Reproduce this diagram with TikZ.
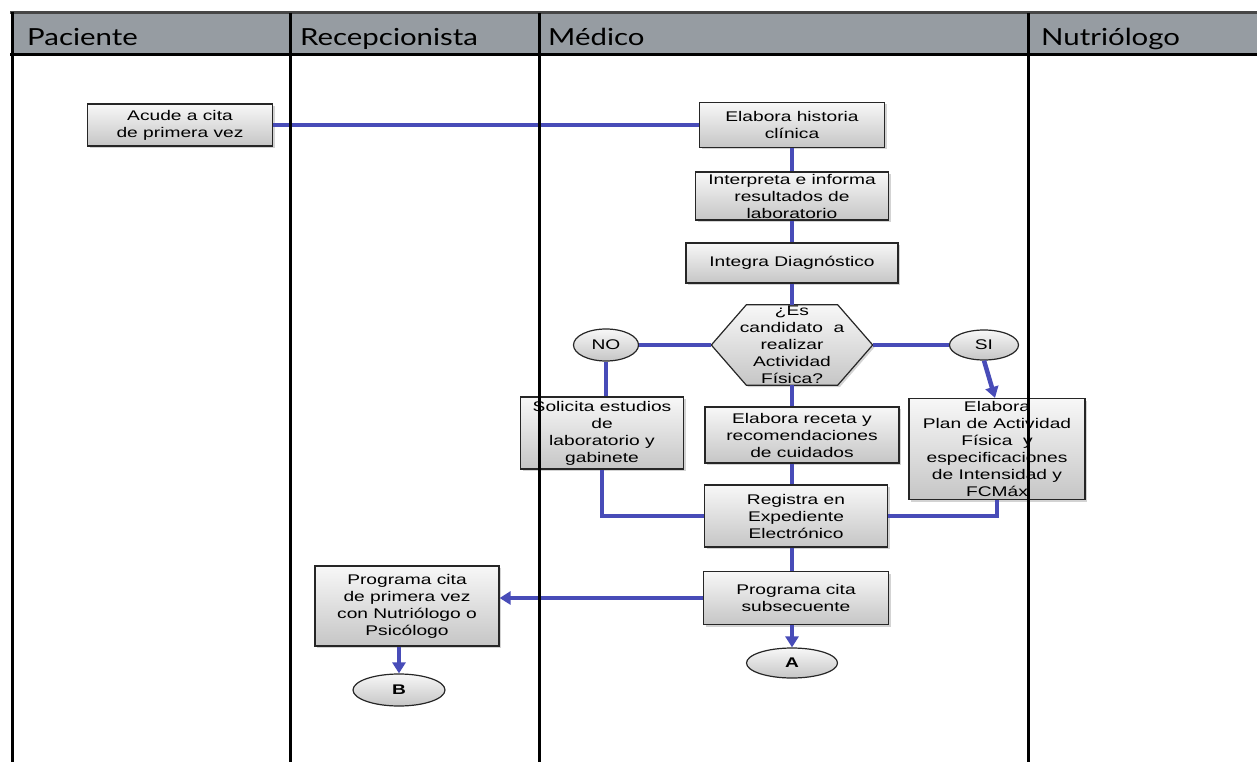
\documentclass[tikz,border=0pt]{standalone}
\usepackage{fontspec}
\setmainfont{Liberation Sans}
\newfontfamily\cajafont[FakeStretch=1.37]{Liberation Sans}
\newfontfamily\carrilfont[FakeStretch=1.25]{Lato}
\usetikzlibrary{shapes.geometric,shadows,arrows.meta,backgrounds}
\definecolor{azul}{RGB}{72,76,184}
\definecolor{cabecera}{RGB}{150,156,162}

\begin{document}
\begin{tikzpicture}[
                x=1pt, y=-1pt,                % unidades en pixeles
                node distance=70pt,
                every node/.style={
                    font=\cajafont\fontsize{14}{17}\selectfont,
                    align=center
                },
                caja/.style={
                    rectangle,
                    draw=black!85,
                    line width=1.2pt,
                    top color=gray!6,
                    bottom color=gray!45,
                    inner sep=1pt,
                    drop shadow={shadow xshift=2pt, shadow yshift=-2pt, opacity=0.35}
                },
                ovalo/.style={ellipse, draw=black!85, line width=1.2pt,
                    top color=gray!6, bottom color=gray!45, inner sep=0pt},
                rombo/.style={minimum width=161pt, minimum height=80pt, inner sep=0pt},
                titulo/.style={font=\carrilfont\fontsize{23.5}{28}\selectfont,
                    anchor=base west, inner sep=0pt},
                >={Triangle[length=11pt,width=13pt]},
                linea/.style={draw=azul, line width=4.5pt},
                flecha/.style={->, draw=azul, line width=4.5pt},
                carril/.style={line width=3pt}
            ]
                \useasboundingbox (0,0) rectangle (1257,762);

                % cabecera
                \fill[cabecera] (12,13) rectangle (1257,55);
                \draw[line width=3pt, gray!55!black] (10,13) -- (1257,13);
                \node[titulo] (paciente) at (27,46) {Paciente};
                \node[titulo] (recepcion) at (300,46) {Recepcionista};
                \node[titulo] (medico) at (548,46) {Médico};
                \node[titulo] (nutricion) at (1041,46) {Nutriólogo};

                % nodos
                \node[caja, minimum width=185pt, minimum height=42pt] (acude) at (180,125) {Acude a cita\\de primera vez};
                \node[caja, minimum width=185pt, minimum height=45pt] (historia) at (792,125) {Elabora historia\\clínica};
                \node[caja, minimum width=193pt, minimum height=48pt] (interpreta) [below of=historia, node distance=71pt] {Interpreta e informa\\resultados de\\laboratorio};
                \node[caja, minimum width=212pt, minimum height=40pt] (diagnostico) [below of=interpreta, node distance=67pt] {Integra Diagnóstico};
                \node[rombo] (pregunta) [below of=diagnostico, node distance=82pt] {¿Es\\candidato~ a\\realizar\\Actividad\\Física?};
                \node[ovalo, minimum width=65pt, minimum height=32pt] (no) [left of=pregunta, node distance=186pt] {NO};
                \node[ovalo, minimum width=69pt, minimum height=30pt] (si) [right of=pregunta, node distance=192pt] {SI};
                \node[caja, minimum width=163pt, minimum height=72pt] (solicita) [below of=no, node distance=88pt, xshift=-4pt] {Solicita estudios\\de\\laboratorio y\\gabinete};
                \node[caja, minimum width=194pt, minimum height=56pt] (receta) [below of=pregunta, node distance=90pt, xshift=10pt] {Elabora receta y\\recomendaciones\\de cuidados};
                \node[caja, minimum width=176pt, minimum height=101pt] (plan) [below of=si, node distance=104pt, xshift=13pt] {Elabora\\Plan de Actividad\\Física~ y\\especificaciones\\de Intensidad y\\FCMáx};
                \node[caja, minimum width=183pt, minimum height=62pt] (registra) [below of=receta, node distance=81pt, xshift=-6pt] {Registra en\\Expediente\\Electrónico};
                \node[caja, minimum width=185pt, minimum height=53pt] (subsecuente) [below of=registra, node distance=82pt] {Programa cita\\subsecuente};
                \node[ovalo, minimum width=91pt, minimum height=30pt, font=\cajafont\bfseries\fontsize{14}{17}\selectfont] (a) [below of=subsecuente, node distance=65pt, xshift=-4pt] {A};
                \node[caja, minimum width=184pt, minimum height=80pt] (primera) [left of=subsecuente, node distance=389pt, yshift=-8pt] {Programa cita\\de primera vez\\con Nutriólogo o\\Psicólogo};
                \node[ovalo, minimum width=92pt, minimum height=32pt, font=\cajafont\bfseries\fontsize{14}{17}\selectfont] (b) [below of=primera, node distance=84pt, xshift=-8pt] {B};

                % hexagono de la decision
                \begin{pgfonlayer}{background}
                \draw[draw=black!85, line width=1.2pt, top color=gray!6, bottom color=gray!45,
                      drop shadow={shadow xshift=2pt, shadow yshift=-2pt, opacity=0.35}]
                    (pregunta.west) -- ([xshift=35pt]pregunta.north west) -- ([xshift=-35pt]pregunta.north east)
                    -- (pregunta.east) -- ([xshift=-35pt]pregunta.south east) -- ([xshift=35pt]pregunta.south west) -- cycle;
                \end{pgfonlayer}

                % conectores
                \draw[linea] (acude) -- (historia);
                \draw[linea] (historia) -- (interpreta);
                \draw[linea] (interpreta) -- (diagnostico);
                \draw[linea] (diagnostico) -- (pregunta);
                \draw[linea] (no) -- (pregunta);
                \draw[linea] (pregunta) -- (si);
                \draw[linea] (pregunta.south) -- (pregunta.south |- receta.north);
                \draw[linea] (no.south) -- (no.south |- solicita.north);
                \draw[flecha] (si.south) -- ([xshift=-2pt]plan.north);
                \draw[linea] (receta.south -| pregunta) -- (registra.north -| pregunta);
                \draw[linea] (solicita.south) |- (registra.west);
                \draw[linea] (plan.south) |- (registra.east);
                \draw[linea] (registra.south -| pregunta) -- (subsecuente.north -| pregunta);
                \draw[flecha] (subsecuente.west) -- (subsecuente.west -| primera.east);
                \draw[flecha] (subsecuente.south -| a) -- (a.north);
                \draw[flecha] (primera.south -| b) -- (b.north);

                % carriles
                \draw[carril] (10,55) -- (1257,55);
                \draw[carril] (12,12) -- (12,762);
                \draw[carril] (290,13) -- (290,762);
                \draw[carril] (539,13) -- (539,762);
                \draw[carril] (1028,13) -- (1028,762);
            \end{tikzpicture}
\end{document}
